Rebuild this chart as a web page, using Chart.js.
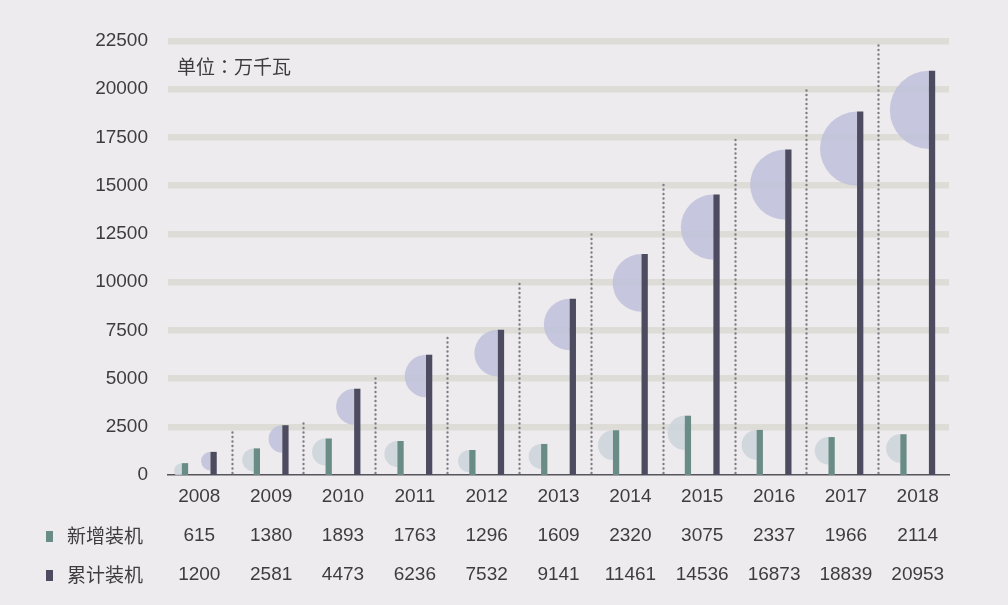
<!DOCTYPE html>
<html>
<head>
<meta charset="utf-8">
<script src="https://cdn.jsdelivr.net/npm/chart.js@4.4.1/dist/chart.umd.min.js"></script>
<style>
  html, body { margin: 0; padding: 0; background: #eeebef; }
  #wrap { width: 1008px; height: 605px; position: relative; }
</style>
</head>
<body>
<div id="wrap"><canvas id="chart" width="1008" height="605"></canvas></div>
<script>
// Wind power installed capacity, 万千瓦
const years = ['2008', '2009', '2010', '2011', '2012', '2013', '2014', '2015', '2016', '2017', '2018'];
const newCapacity = [615, 1380, 1893, 1763, 1296, 1609, 2320, 3075, 2337, 1966, 2114];
const totalCapacity = [1200, 2581, 4473, 6236, 7532, 9141, 11461, 14536, 16873, 18839, 20953];
const seriesNames = ['新增装机', '累计装机'];
const unitText = '单位：万千瓦';
// heights reached by the dotted separators between years
const dividerTops = [2350, 2680, 5080, 7300, 10000, 12600, 15080, 17520, 19960, 22340];
const yMax = 22500;
const yStep = 2500;

const FONT = '"Liberation Sans", "Noto Sans CJK SC", sans-serif';
const CJK = '"Noto Sans CJK SC", sans-serif';
const CJK_CENTERED_PUNCT = '"Noto Sans CJK TC", "Noto Sans CJK SC", sans-serif';
const TEXT = '#3d3d3d';
const LINE_H = 39;
const TICK_PAD = 2.5;

const barColors = ['#6a8c87', '#4c4b5f'];
const discColors = ['rgba(204,213,220,0.88)', 'rgba(190,193,219,0.85)'];
const discScale = [0.31, 0.27];

const decor = {
  id: 'decor',
  beforeDatasetsDraw(chart) {
    const { ctx, chartArea: a, scales: { x, y } } = chart;
    ctx.save();
    ctx.beginPath();
    ctx.rect(a.left, a.top - 10, a.right - a.left, a.bottom - a.top + 10);
    ctx.clip();

    // dotted separators
    ctx.strokeStyle = '#7f7e85';
    ctx.lineWidth = 2.4;
    ctx.lineCap = 'round';
    ctx.setLineDash([0, 4.5]);
    dividerTops.forEach((v, i) => {
      const px = Math.round(x.getPixelForValue(i + 0.45)) + 0.5;
      ctx.beginPath();
      ctx.moveTo(px, y.getPixelForValue(0) - 2);
      ctx.lineTo(px, y.getPixelForValue(v));
      ctx.stroke();
    });
    ctx.setLineDash([]);

    // half discs hanging on the left side of every bar
    chart.data.datasets.forEach((ds, di) => {
      const meta = chart.getDatasetMeta(di);
      ctx.fillStyle = discColors[di];
      meta.data.forEach((bar, i) => {
        const v = ds.data[i].y;
        const r = discScale[di] * Math.sqrt(v);
        const left = bar.x - bar.width / 2;
        ctx.beginPath();
        ctx.moveTo(left, bar.y);
        ctx.arc(left, bar.y + r, r, -Math.PI / 2, Math.PI / 2, true);
        ctx.closePath();
        ctx.fill();
      });
    });
    ctx.restore();
  },
  afterDraw(chart) {
    const { ctx, scales: { x } } = chart;
    ctx.save();
    // unit note
    ctx.font = '19px ' + CJK_CENTERED_PUNCT;
    ctx.fillStyle = TEXT;
    ctx.textBaseline = 'middle';
    ctx.textAlign = 'left';
    ctx.fillText(unitText, 177, 67);

    // row headers of the value table
    seriesNames.forEach((name, k) => {
      const rowY = x.top + TICK_PAD + LINE_H * (k + 1.5);
      ctx.fillStyle = barColors[k];
      ctx.fillRect(46, Math.round(rowY - 5.5), 7, 11);
      ctx.fillStyle = TEXT;
      ctx.font = '19px ' + CJK;
      ctx.fillText(name, 67, rowY);
    });
    ctx.restore();
  }
};

const toPoints = arr => arr.map((v, i) => ({ x: i, y: v }));

new Chart(document.getElementById('chart'), {
  type: 'bar',
  data: {
    datasets: [
      {
        label: seriesNames[0],
        data: toPoints(newCapacity),
        backgroundColor: barColors[0],
        categoryPercentage: 0.796,
        barPercentage: 0.22
      },
      {
        label: seriesNames[1],
        data: toPoints(totalCapacity),
        backgroundColor: barColors[1],
        categoryPercentage: 0.796,
        barPercentage: 0.22
      }
    ]
  },
  options: {
    responsive: false,
    animation: false,
    events: [],
    layout: { padding: { top: 41, right: 59, bottom: 0, left: 0 } },
    plugins: { legend: { display: false }, tooltip: { enabled: false } },
    scales: {
      x: {
        type: 'linear',
        min: -0.4357,
        max: 10.435,
        offset: false,
        afterBuildTicks: s => { s.ticks = years.map((_, i) => ({ value: i })); },
        afterFit: s => { s.height = 130; },
        grid: { display: false, drawTicks: false },
        border: { display: true, color: '#56555b', width: 1.5 },
        ticks: {
          autoSkip: false,
          maxRotation: 0,
          padding: TICK_PAD,
          color: TEXT,
          font: { family: FONT, size: 19, lineHeight: LINE_H + 'px' },
          callback: v => [years[v], String(newCapacity[v]), String(totalCapacity[v])]
        }
      },
      y: {
        min: 0,
        max: yMax,
        afterFit: s => { s.width = 168; },
        grid: {
          color: '#dddcd7',
          lineWidth: c => (c.tick && c.tick.value === 0 ? 0 : 6.5),
          drawTicks: false
        },
        border: { display: false },
        ticks: {
          stepSize: yStep,
          padding: 20,
          color: TEXT,
          font: { family: FONT, size: 19 },
          callback: v => String(v)
        }
      }
    }
  },
  plugins: [decor]
});
</script>
</body>
</html>
